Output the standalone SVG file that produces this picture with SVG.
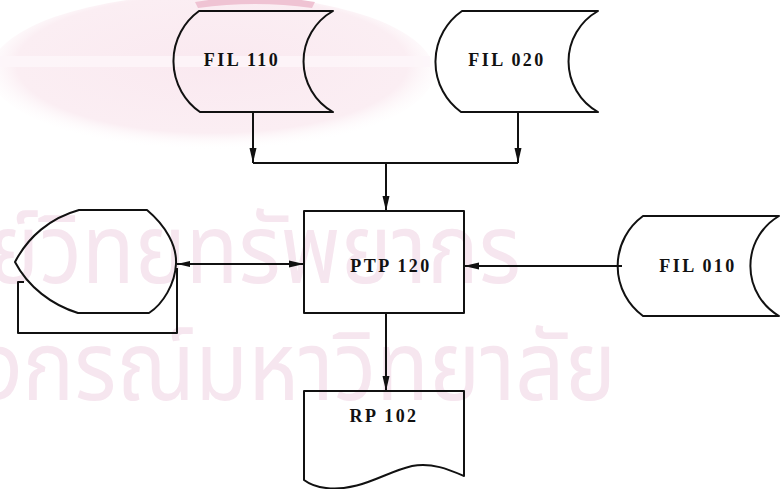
<svg xmlns="http://www.w3.org/2000/svg" width="780" height="489" viewBox="0 0 780 489">
<defs>
<style>
.shape{fill:none;stroke:#111;stroke-width:2;stroke-linejoin:round}
.conn{fill:none;stroke:#111;stroke-width:2}
.lbl{font-family:"Liberation Serif","Times New Roman",serif;font-weight:bold;font-size:18px;letter-spacing:2.4px;fill:#111;text-anchor:middle}
.wm{font-family:"Noto Sans Thai","Noto Sans","DejaVu Sans",sans-serif;font-size:96px;fill:#f6e6ef;text-anchor:end}
</style>
<radialGradient id="logo" cx="0.5" cy="0.45" r="0.55">
<stop offset="0" stop-color="#fae9f0"/>
<stop offset="0.8" stop-color="#fbeef3"/>
<stop offset="1" stop-color="#ffffff" stop-opacity="0"/>
</radialGradient>
<marker id="ah" markerUnits="userSpaceOnUse" markerWidth="16" markerHeight="10" viewBox="0 -5 16 10" refX="15" refY="0" orient="auto">
<path d="M0,-3.5 L15,0 L0,3.5 Z" fill="#111"/>
</marker>
<marker id="ahs" markerUnits="userSpaceOnUse" markerWidth="16" markerHeight="10" viewBox="0 -5 16 10" refX="1" refY="0" orient="auto">
<path d="M14,-3 L1,0 L14,3 Z" fill="#111"/>
</marker>
</defs>
<rect width="780" height="489" fill="#ffffff"/>
<g id="watermark">
<ellipse cx="212" cy="72" rx="222" ry="78" fill="url(#logo)"/>
<path d="M195,2 Q255,-8 315,2 L312,8 Q255,0 198,8 Z" fill="#efc3d3"/>
<rect x="0" y="56" width="430" height="11" fill="#fdf6f9" opacity="0.85"/>
<text class="wm" transform="translate(521,283) scale(0.9,1)">ศูนย์วิทยทรัพยากร</text>
<text class="wm" transform="translate(616,400) scale(0.9,1)">จุฬาลงกรณ์มหาวิทยาลัย</text>
</g>
<g id="connectors">
<path class="conn" d="M253,112 L253,163" marker-end="url(#ah)"/>
<path class="conn" d="M518,112 L518,163" marker-end="url(#ah)"/>
<path class="conn" d="M253,163 L518,163"/>
<path class="conn" d="M386,163 L386,211" marker-end="url(#ah)"/>
<path class="conn" d="M177,264 L304,264" marker-start="url(#ahs)" marker-end="url(#ah)"/>
<path class="conn" d="M622,266 L464,266" marker-end="url(#ah)"/>
<path class="conn" d="M386,313 L386,391" marker-end="url(#ah)"/>
</g>
<g id="fil110">
<path class="shape" d="M199,11 L333,11 A58,58 0 0 0 333,112 L200,112 A62,62 0 0 1 199,11 Z"/>
<text class="lbl" x="242" y="66">FIL 110</text>
</g>
<g id="fil020">
<path class="shape" d="M462,11 L598,11 A58,58 0 0 0 598,112 L461,112 A62,62 0 0 1 462,11 Z"/>
<text class="lbl" x="507" y="66">FIL 020</text>
</g>
<g id="display">
<path class="shape" d="M79,210 L147,210 C166,226 177,246 176,264 C175,284 163,304 149,313 L78,313 C52,305 28,287 15,262 C28,237 50,218 79,210 Z"/>
<path class="shape" d="M24,282 L18,282 L18,333 L177,333 L177,268"/>
</g>
<g id="ptp120">
<rect class="shape" x="304" y="211" width="160" height="102"/>
<text class="lbl" x="391" y="272">PTP 120</text>
</g>
<g id="fil010">
<path class="shape" d="M643,216 L779,216 A58,58 0 0 0 779,316 L643,316 A62,62 0 0 1 643,216 Z"/>
<text class="lbl" x="698" y="272">FIL 010</text>
</g>
<g id="rp102">
<path class="shape" d="M304,391 L464,391 L464,476 C450,470 432,462 412,466 C385,472 360,492 326,488 C316,487 308,483 304,480 Z"/>
<text class="lbl" x="384" y="422">RP 102</text>
</g>
</svg>
